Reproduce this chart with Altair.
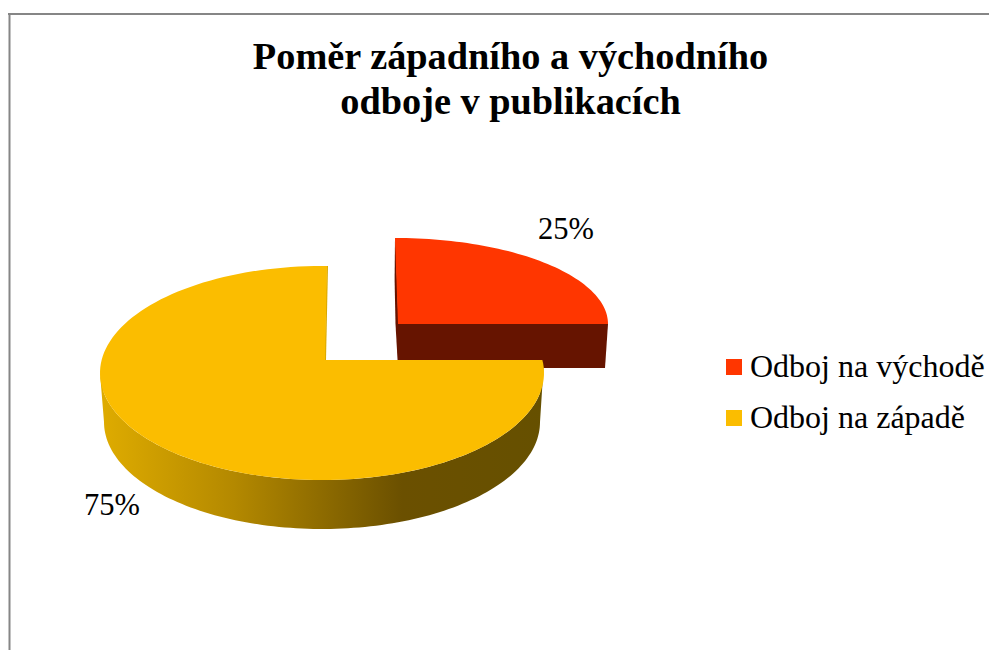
import numpy as np
import pandas as pd
import altair as alt

# ---- chart values ----
categories = ["Odboj na východě", "Odboj na západě"]
shares = [25, 75]
title_lines = ["Poměr západního a východního", "odboje v publikacích"]

# ---- styling / layout (page pixels, mapped through the x / y scales) ----
FONT = "Liberation Serif"
RED, YELLOW = "#FF3600", "#FBBD00"
RED_DARK = "#661400"
BORDER = "#868686"

X_SCALE = alt.Scale(domain=[8, 989], nice=False, zero=False)
Y_SCALE = alt.Scale(domain=[650, 8], nice=False, zero=False)

sweep_red = shares[0] / sum(shares) * 2 * np.pi   # clockwise from 12 o'clock
t_red = np.linspace(0, sweep_red, 60)

# red slice, pulled out
rc = dict(cx=395.0, cy=324.0, rx=213.0, ry=86.0, ax=398.0)
ry_vals = rc["cy"] - rc["ry"] * np.cos(t_red)
red_top = pd.DataFrame({
    "cat": categories[0],
    "y": ry_vals,
    "x1": 395 + (ry_vals - 238) / (324 - 238) * (rc["ax"] - 395),
    "x2": rc["cx"] + rc["rx"] * np.sin(t_red),
})
red_side = pd.DataFrame({"y": [324, 368], "x1": [398, 398], "x2": [608, 605]})
red_edge = pd.DataFrame({"y": [238, 280, 324, 368], "x1": [395, 394.6, 395.5, 398],
                         "x2": [395.5, 397, 398.5, 398.5]})

# yellow slice
yc = dict(cx=322.0, cy=373.0, rx=222.0, ry=107.0, ax=325.0, ay=360.0)
yv = np.sort(yc["cy"] + yc["ry"] * np.cos(np.linspace(0, np.pi, 90)))
half = yc["rx"] * np.sqrt(np.clip(1 - ((yv - yc["cy"]) / yc["ry"]) ** 2, 0, 1))
upper = yv < yc["ay"]
edge = yc["ax"] + (yc["ay"] - yv) / (yc["ay"] - 266) * 2
right = np.where(upper, edge, yc["cx"] + half)
half_at_apex = yc["rx"] * np.sqrt(1 - ((yc["ay"] - yc["cy"]) / yc["ry"]) ** 2)
yel_top = pd.DataFrame({
    "cat": categories[1],
    "y": np.concatenate([yv[upper], [yc["ay"] - 0.01, yc["ay"]], yv[~upper]]),
    "x1": np.concatenate([(yc["cx"] - half)[upper],
                          [yc["cx"] - half_at_apex] * 2,
                          (yc["cx"] - half)[~upper]]),
    "x2": np.concatenate([right[upper], [yc["ax"], yc["cx"] + half_at_apex],
                          right[~upper]]),
})
yel_sliver = pd.DataFrame({"y": [266, 360], "x1": [326.5, 324.5], "x2": [328, 326]})

# yellow rim: between the lower edge of the top face and the same edge lowered by the depth
depth = 49.0
xs = np.concatenate([[100.0], 322 - 218 * np.cos(np.linspace(0, np.pi, 120)), [544.0]])
top_edge = yc["cy"] + yc["ry"] * np.sqrt(np.clip(1 - ((xs - yc["cx"]) / yc["rx"]) ** 2, 0, 1))
low_edge = yc["cy"] + depth + yc["ry"] * np.sqrt(np.clip(1 - ((xs - 322) / 218) ** 2, 0, 1))
low_edge[0], low_edge[-1] = top_edge[0], top_edge[-1] - 13
rim = pd.DataFrame({"x": xs, "y": top_edge, "y2": low_edge})
rim.loc[rim.index[-1], "y"] = top_edge[-1] - 13

rim_fill = alt.Gradient(
    gradient="linear", x1=0, x2=1, y1=0, y2=0,
    stops=[alt.GradientStop(offset=0, color="#DFAC00"),
           alt.GradientStop(offset=0.30, color="#B48900"),
           alt.GradientStop(offset=0.68, color="#6B5000"),
           alt.GradientStop(offset=1, color="#665000")],
)


def hband(df, **mark):
    return alt.Chart(df).mark_area(orient="horizontal", **mark).encode(
        y=alt.Y("y:Q", scale=Y_SCALE, axis=None),
        x=alt.X("x1:Q", scale=X_SCALE, axis=None),
        x2="x2:Q",
    )


rim_layer = alt.Chart(rim).mark_area(orient="vertical", fill=rim_fill).encode(
    x=alt.X("x:Q", scale=X_SCALE, axis=None),
    y=alt.Y("y:Q", scale=Y_SCALE, axis=None),
    y2="y2:Q",
)

tops = alt.Chart(pd.concat([red_top, yel_top])).mark_area(orient="horizontal").encode(
    y=alt.Y("y:Q", scale=Y_SCALE, axis=None),
    x=alt.X("x1:Q", scale=X_SCALE, axis=None),
    x2="x2:Q",
    color=alt.Color(
        "cat:N",
        scale=alt.Scale(domain=categories, range=[RED, YELLOW]),
        legend=alt.Legend(
            title=None, orient="none", legendX=710, legendY=343,
            symbolType="square", symbolSize=256, symbolStrokeWidth=0, symbolOpacity=1,
            labelFont=FONT, labelFontSize=32, labelColor="#000000", labelLimit=300,
            labelOffset=0, rowPadding=19, padding=0,
        ),
    ),
)

labels = pd.DataFrame({
    "text": [f"{s}%" for s in shares],
    "x": [566, 112],
    "y": [230, 506],
})
label_layer = alt.Chart(labels).mark_text(font=FONT, fontSize=30.5, color="#000000").encode(
    x=alt.X("x:Q", scale=X_SCALE, axis=None),
    y=alt.Y("y:Q", scale=Y_SCALE, axis=None),
    text="text:N",
)

top_rule = alt.Chart(pd.DataFrame({"x": [8], "x2": [989], "y": [14]})).mark_rule(
    color=BORDER, strokeWidth=2
).encode(x=alt.X("x:Q", scale=X_SCALE, axis=None), x2="x2:Q",
         y=alt.Y("y:Q", scale=Y_SCALE, axis=None))
left_rule = alt.Chart(pd.DataFrame({"x": [9.5], "y": [13], "y2": [650]})).mark_rule(
    color=BORDER, strokeWidth=2
).encode(x=alt.X("x:Q", scale=X_SCALE, axis=None),
         y=alt.Y("y:Q", scale=Y_SCALE, axis=None), y2="y2:Q")

chart = alt.layer(
    top_rule, left_rule,
    hband(red_edge, color=RED_DARK),
    hband(red_side, color=RED_DARK),
    hband(yel_sliver, color="#D9A800"),
    rim_layer,
    tops,
    label_layer,
).properties(
    width=981, height=642, padding=0,
    autosize=alt.AutoSizeParams(type="none"),
    title=alt.TitleParams(
        text=title_lines, font=FONT, fontSize=38.3, fontWeight="bold", color="#000000",
        anchor="middle", frame="group", dx=12, offset=-114, lineHeight=45,
    ),
).configure_view(strokeWidth=0)

chart.save("out.html", embed_options={"renderer": "svg", "actions": False})
